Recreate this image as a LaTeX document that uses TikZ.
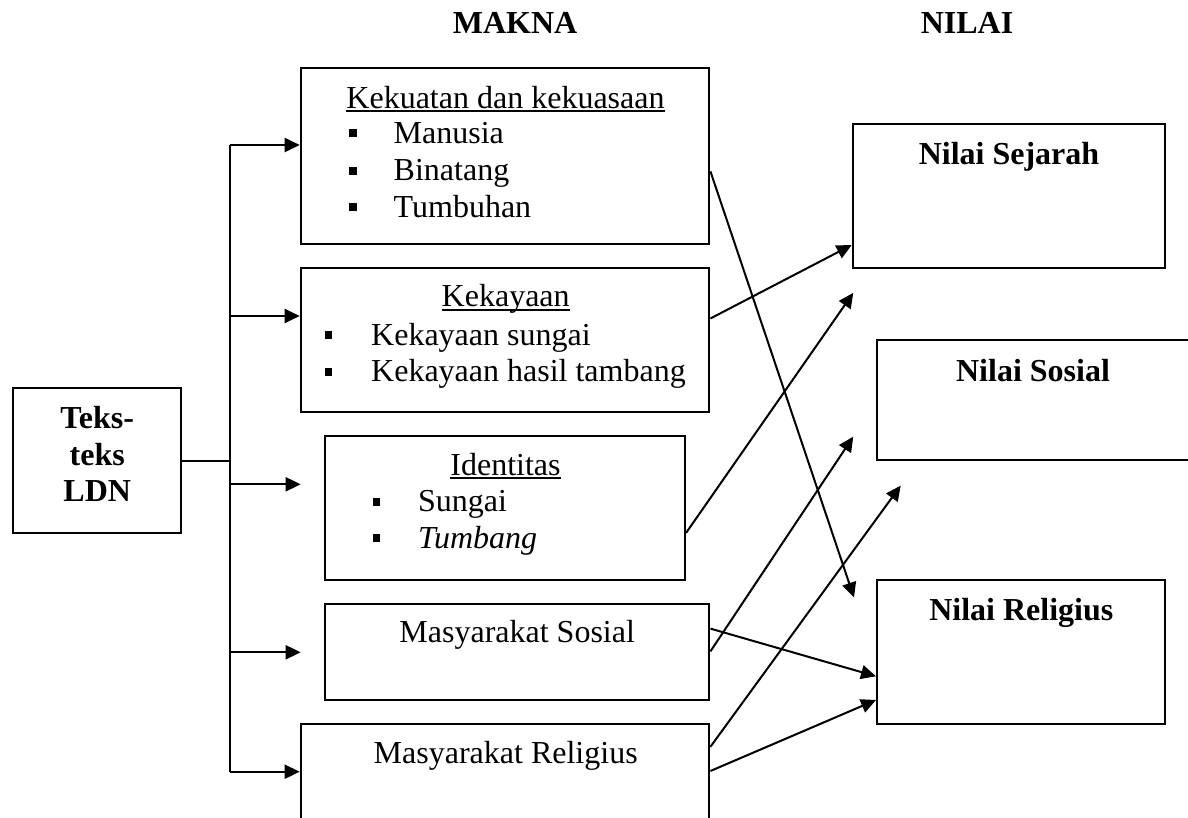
\documentclass[tikz,border=0pt]{standalone}
\usepackage{fontspec}
\setmainfont{Liberation Serif}
\usetikzlibrary{arrows.meta}
\newsavebox{\ulxbox}
\newcommand\ulx[1]{\sbox{\ulxbox}{#1}\rlap{\vrule width\wd\ulxbox height -2pt depth 3.8pt}\usebox{\ulxbox}}
\newcommand\bulx[1]{\makebox[#1][l]{\rule[6pt]{7.3pt}{8pt}}}
\begin{document}
\begin{tikzpicture}[x=1pt,y=-1pt,
  box/.style={draw, rectangle, line width=2pt, inner sep=0pt},
  txt/.style={inner sep=0pt, anchor=base, font=\fontsize{32}{37}\selectfont},
  btxt/.style={txt, font=\fontsize{32}{37}\selectfont\bfseries},
  item/.style={txt, anchor=base west},
  wire/.style={line width=2pt},
  arr/.style={wire, -{Triangle[length=15pt,width=14pt]}}]
\useasboundingbox (0,0) rectangle (1188,818);

% headers
\node[btxt] (makna) at (515,33.3) {MAKNA};
\node[btxt] (nilai) at (967,33.3) {NILAI};

% source box
\node[box, minimum width=168.4pt, minimum height=145.6pt] (teks) at (97.2,460.5) {};
\node[btxt] (tk1) at (97.2,428) {Teks-};
\node[btxt] (tk2) at (97.2,465) {teks};
\node[btxt] (tk3) at (97.2,501.7) {LDN};

% makna boxes
\node[box, minimum width=408.7pt, minimum height=175.7pt] (b1) at (505.05,156.15) {};
\node[box, minimum width=408.7pt, minimum height=144pt] (b2) at (505.05,340.3) {};
\node[box, minimum width=360pt, minimum height=144.3pt] (b3) at (505,507.85) {};
\node[box, minimum width=384.4pt, minimum height=96pt] (b4) at (517.2,652) {};
\node[box, minimum width=408.7pt, minimum height=110pt] (b5) at (505.05,779) {};

% makna texts
\node[txt] (t1) at (505.5,108.3) {\ulx{Kekuatan dan kekuasaan}};
\node[item] (t1a) at (349,143.3) {\bulx{44.5pt}Manusia};
\node[item] (t1b) at (349,180.7) {\bulx{44.5pt}Binatang};
\node[item] (t1c) at (349,217.3) {\bulx{44.5pt}Tumbuhan};

\node[txt] (t2) at (505.7,306.7) {\ulx{Kekayaan}};
\node[item] (t2a) at (324.4,345) {\bulx{46.6pt}Kekayaan sungai};
\node[item] (t2b) at (324.4,381.7) {\bulx{46.6pt}Kekayaan hasil tambang};

\node[txt] (t3) at (505.5,475) {\ulx{Identitas}};
\node[item] (t3a) at (372.9,511.7) {\bulx{44.9pt}Sungai};
\node[item] (t3b) at (372.9,548.3) {\bulx{44.9pt}\itshape Tumbang};

\node[txt] (t4) at (517.2,642.7) {Masyarakat Sosial};
\node[txt] (t5) at (505.7,763.3) {Masyarakat Religius};

% nilai boxes
\node[box, minimum width=312.6pt, minimum height=144pt] (ns) at (1009,196) {};
\node[box, minimum width=313pt, minimum height=120.4pt] (nso) at (1033.5,399.8) {};
\node[box, minimum width=288.3pt, minimum height=144pt] (nr) at (1021.15,652) {};
\node[btxt] (nst) at (1009,164.3) {Nilai Sejarah};
\node[btxt] (nsot) at (1033,381) {Nilai Sosial};
\node[btxt] (nrt) at (1021.3,620.3) {Nilai Religius};

% trunk
\coordinate (jn) at (229.6,460.5);
\coordinate (k1) at (229.6,145);
\coordinate (k2) at (229.6,316);
\coordinate (k3) at (229.6,484.3);
\coordinate (k4) at (229.6,652.3);
\coordinate (k5) at (229.6,771.7);
\coordinate (p3) at (300.7,484.3);
\coordinate (p4) at (300.7,652.3);
\draw[wire] (teks.east |- jn) -- (jn);
\draw[wire] (k1) -- (k5);
\draw[arr] (k1) -- (b1.west |- k1);
\draw[arr] (k2) -- (b2.west |- k2);
\draw[arr] (k3) -- (p3);
\draw[arr] (k4) -- (p4);
\draw[arr] (k5) -- (b5.west |- k5);

% free arrow ends
\coordinate (ea) at (854,597.5);
\coordinate (ec) at (853.3,292.8);
\coordinate (ed) at (853.3,436.6);
\coordinate (ef) at (900.7,485.6);

\draw[arr] (b1.east |- 0,171.3) -- (ea);
\draw[arr] (b2.east |- 0,318.5) -- (ns.west |- 0,245);
\draw[arr] (b3.east |- 0,533) -- (ec);
\draw[arr] (b4.east |- 0,651.4) -- (ed);
\draw[arr] (b4.east |- 0,628.6) -- (nr.west |- 0,676.3);
\draw[arr] (b5.east |- 0,746.8) -- (ef);
\draw[arr] (b5.east |- 0,771) -- (nr.west |- 0,700);
\end{tikzpicture}
\end{document}
